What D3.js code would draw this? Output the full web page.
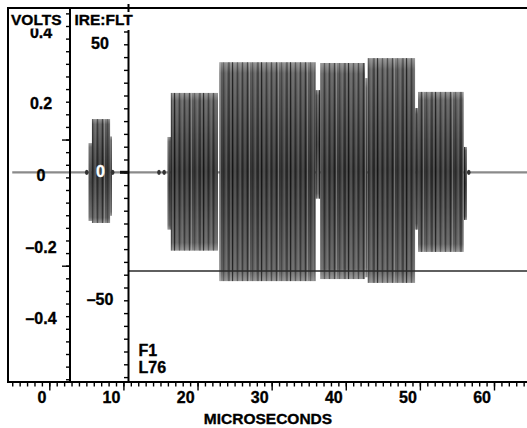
<!DOCTYPE html>
<html><head><meta charset="utf-8">
<script src="https://cdn.jsdelivr.net/npm/d3@7"></script>
<style>
html,body{margin:0;padding:0;background:#fff;}
svg{display:block;}
text{font-family:"Liberation Sans",Arial,Helvetica,sans-serif;font-weight:bold;fill:#000;stroke:#000;stroke-width:0.35px;}
</style></head><body>
<svg id="c" width="527" height="428"></svg>
<script>
// ---- data (times in microseconds, levels in IRE) ----
const packetStart = [5.30, 5.75, 8.20, 15.95, 16.40, 22.95, 35.92, 36.56, 42.60, 42.95, 49.35, 49.75, 55.90];
const packetEnd   = [5.75, 8.20, 8.45, 16.40, 22.75, 35.92, 36.56, 42.60, 42.95, 49.35, 49.75, 55.90, 56.35];
const packetHigh  = [11.4, 20.8, 14.0, 13.8, 31.0, 43.0, 32.1, 42.7, 36.8, 44.6, 25.1, 31.4, 9.9];
const packetLow   = [-19.0, -19.8, -17.0, -22.4, -30.6, -42.5, -10.3, -41.7, -41.0, -43.2, -22.4, -31.1, -18.6];
const blobTimes   = [5.05, 8.55, 14.8, 15.5, 56.6];
const traceRange  = [-5.0, 64.6];
const cursorIRE   = -38.6;

const xTickLabels   = [0, 10, 20, 30, 40, 50, 60];
const voltLabels    = [0.4, 0.2, 0, -0.2, -0.4];
const ireLabels     = [50, -50];
const ireZeroLabel  = [0];
const notes         = ["F1", "L76"];

// ---- scales ----
const x  = d3.scaleLinear().domain([0, 60]).range([49.3, 494]);
const yI = d3.scaleLinear().domain([0, 50]).range([172.3, 44.3]);
const yV = d3.scaleLinear().domain([0, 0.4]).range([172.3, 172.3 - 0.4 * 358.4]);

const svg = d3.select("#c");
const defs = svg.append("defs");
const g = defs.append("linearGradient").attr("id", "pk").attr("x1", 0).attr("y1", 0).attr("x2", 0).attr("y2", 1);
[[0, "#8e8e8e"], [0.05, "#5e5e5e"], [0.3, "#444"], [0.5, "#333"], [0.7, "#444"], [0.95, "#5e5e5e"], [1, "#8e8e8e"]]
  .forEach(([o, c]) => g.append("stop").attr("offset", o).attr("stop-color", c));
const pat = defs.append("pattern").attr("id", "st").attr("patternUnits", "userSpaceOnUse")
  .attr("width", 29).attr("height", 8);
[[0, 1, "#000", .6], [2.5, 1, "#e0e0e0", .3], [5, .7, "#000", .45], [7.5, 1.2, "#d0d0d0", .3], [10, .8, "#111", .55],
 [12.5, 1, "#eee", .22], [15, .9, "#000", .5], [17, 1, "#ddd", .35], [20, .7, "#111", .4], [22.5, 1.3, "#ccc", .25],
 [25.5, .9, "#000", .55], [27.5, .8, "#eee", .3]]
  .forEach(([px, w, c, o]) => pat.append("rect").attr("x", px).attr("y", 0).attr("width", w).attr("height", 8).attr("fill", c).attr("opacity", o));

// baseline trace
svg.append("line").attr("x1", x(traceRange[0])).attr("x2", x(traceRange[1]))
  .attr("y1", yI(0)).attr("y2", yI(0)).attr("stroke", "#8a8a8a").attr("stroke-width", 2.2);

// packets
const packets = packetStart.map((s, i) => ({s, e: packetEnd[i], hi: packetHigh[i], lo: packetLow[i]}));
const pg = svg.append("g");
pg.selectAll("rect.b").data(packets).join("rect").attr("class", "b")
  .attr("x", d => x(d.s)).attr("width", d => x(d.e) - x(d.s))
  .attr("y", d => yI(d.hi)).attr("height", d => yI(d.lo) - yI(d.hi))
  .attr("fill", "url(#pk)");
pg.selectAll("rect.s").data(packets).join("rect").attr("class", "s")
  .attr("x", d => x(d.s)).attr("width", d => x(d.e) - x(d.s))
  .attr("y", d => yI(d.hi)).attr("height", d => yI(d.lo) - yI(d.hi))
  .attr("fill", "url(#st)");

svg.selectAll("ellipse.blob").data(blobTimes).join("ellipse").attr("class", "blob")
  .attr("cx", d => x(d)).attr("cy", yI(0)).attr("rx", 1.8).attr("ry", 2.6).attr("fill", "#333");

// cursor line
svg.append("line").attr("x1", 128).attr("x2", 527).attr("y1", yI(cursorIRE)).attr("y2", yI(cursorIRE))
  .attr("stroke", "#2a2a2a").attr("stroke-width", 1.5);

// frame
const frame = svg.append("g").attr("stroke", "#000").attr("stroke-width", 2);
frame.append("line").attr("x1", 7).attr("x2", 527).attr("y1", 8).attr("y2", 8);
frame.append("line").attr("x1", 8).attr("x2", 8).attr("y1", 7).attr("y2", 383);
frame.append("line").attr("x1", 70).attr("x2", 70).attr("y1", 7).attr("y2", 383);
frame.append("line").attr("x1", 128.5).attr("x2", 128.5).attr("y1", 4).attr("y2", 383);

function tickGroup(tx, ty) {
  return svg.append("g").attr("transform", `translate(${tx},${ty})`);
}
function styleTicks(sel) {
  sel.selectAll(".domain").remove();
  sel.selectAll("line").attr("stroke", "#000").attr("stroke-width", 1.4);
}

// x axis
const xMinor = tickGroup(0, 382).call(d3.axisBottom(x).tickValues(d3.range(-5, 65, 1)).tickSize(4.5).tickFormat(""));
styleTicks(xMinor);
const xMajor = tickGroup(0, 382).call(d3.axisBottom(x).tickValues(xTickLabels).tickSize(8.5).tickFormat(""));
styleTicks(xMajor);
svg.append("line").attr("x1", 8).attr("x2", 527).attr("y1", 382).attr("y2", 382).attr("stroke", "#000").attr("stroke-width", 2);
svg.selectAll("text.xl").data(xTickLabels).join("text").attr("class", "xl")
  .attr("x", d => x(d) - 3).attr("y", 402.5).attr("text-anchor", "end").attr("font-size", 16).text(d => d);
svg.append("text").attr("x", 268).attr("y", 424).attr("text-anchor", "middle").attr("font-size", 15.5).text("MICROSECONDS");

// volts graticule ticks
const vt = d3.range(0, 30).map(k => 0.4434 - 0.0352 * k);
const vMinor = tickGroup(70, 0).call(d3.axisLeft(yV).tickValues(vt).tickSize(4).tickFormat(""));
styleTicks(vMinor);
const vMajor = tickGroup(70, 0).call(d3.axisLeft(yV).tickValues([vt[10], vt[20]]).tickSize(8).tickFormat(""));
styleTicks(vMajor);

// IRE ticks
const iMinor = tickGroup(128.5, 0).call(d3.axisLeft(yI).tickValues(d3.range(-80, 56, 5)).tickSize(4.5).tickFormat(""));
styleTicks(iMinor);
svg.append("line").attr("x1", 120).attr("x2", 128).attr("y1", yI(0)).attr("y2", yI(0)).attr("stroke", "#111").attr("stroke-width", 3);

// labels
const fmtV = d => d === 0 ? "0" : (d < 0 ? "\u2013" : "") + Math.abs(d);
svg.selectAll("text.vl").data(voltLabels).join("text").attr("class", "vl")
  .attr("x", 41).attr("y", d => yV(d) + 8.8).attr("text-anchor", "middle").attr("font-size", 16).text(fmtV);
svg.selectAll("text.il").data(ireLabels).join("text").attr("class", "il")
  .attr("x", 100).attr("y", d => yI(d) + 4.5).attr("text-anchor", "middle").attr("font-size", 16)
  .text(d => (d < 0 ? "\u2013" : "") + Math.abs(d));
svg.selectAll("text.iz").data(ireZeroLabel).join("text").attr("class", "iz")
  .attr("x", 100.5).attr("y", d => yI(d) + 5).attr("text-anchor", "middle").attr("font-size", 16)
  .style("fill", "#fff").style("stroke", "#fff").text(d => d);
svg.selectAll("text.nt").data(notes).join("text").attr("class", "nt")
  .attr("x", 138.5).attr("y", (d, i) => 355.5 + i * 17).attr("font-size", 16).text(d => d);

// header boxes
svg.append("rect").attr("x", 10).attr("y", 9.5).attr("width", 54).attr("height", 19).attr("fill", "#fff");
svg.append("rect").attr("x", 72).attr("y", 12).attr("width", 61).attr("height", 18).attr("fill", "#fff");
svg.append("text").attr("x", 11).attr("y", 25).attr("font-size", 15.5).text("VOLTS");
svg.append("text").attr("x", 74.5).attr("y", 25).attr("font-size", 15.5).text("IRE:FLT");
</script>
</body></html>
